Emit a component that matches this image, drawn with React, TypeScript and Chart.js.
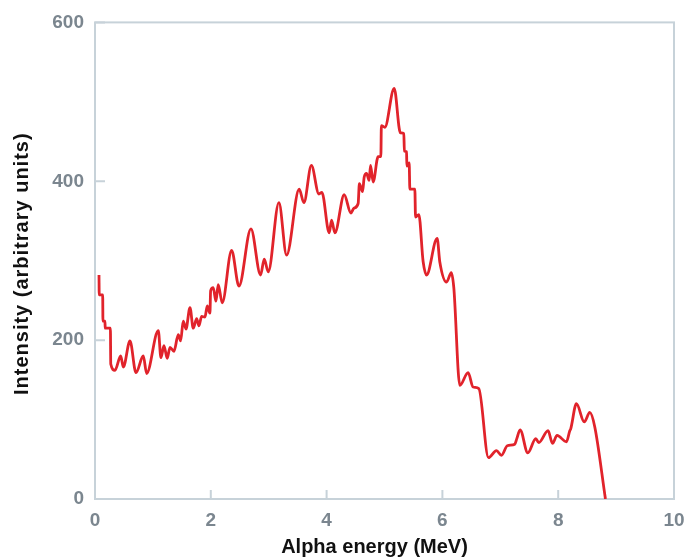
import { useEffect, useRef } from "react";
import { Chart, registerables } from "chart.js";

Chart.register(...registerables);

// Alpha spectrum: energy (MeV) and measured intensity (arbitrary units)
const energyMeV = [
  0.069, 0.073, 0.133, 0.137, 0.172, 0.176, 0.266, 0.272, 0.345, 0.444,
  0.489, 0.604, 0.708, 0.834, 0.892, 1.093, 1.139, 1.191, 1.248, 1.295,
  1.364, 1.438, 1.479, 1.524, 1.571, 1.64, 1.697, 1.756, 1.795, 1.842,
  1.899, 1.939, 1.985, 1.997, 2.042, 2.089, 2.128, 2.197, 2.36, 2.486,
  2.693, 2.86, 2.923, 2.992, 3.176, 3.309, 3.527, 3.608, 3.737, 3.867,
  3.919, 4.045, 4.086, 4.143, 4.304, 4.419, 4.471, 4.545, 4.566, 4.621,
  4.649, 4.69, 4.735, 4.759, 4.804, 4.89, 4.937, 4.946, 5.006, 5.167,
  5.274, 5.334, 5.343, 5.381, 5.386, 5.426, 5.438, 5.524, 5.536, 5.593,
  5.667, 5.726, 5.909, 5.956, 6.071, 6.154, 6.197, 6.301, 6.444, 6.53,
  6.629, 6.796, 6.934, 7.02, 7.121, 7.25, 7.285, 7.342, 7.475, 7.613,
  7.664, 7.825, 7.901, 7.98, 8.143, 8.2, 8.215, 8.315, 8.45, 8.545,
  8.631, 8.816,
];

const intensity = [
  282, 257, 257, 224, 224, 215, 215, 170, 162, 180,
  166, 199, 159, 180, 158, 212, 178, 193, 177, 191,
  186, 207, 199, 224, 214, 241, 215, 227, 218, 230,
  229, 243, 234, 262, 266, 249, 270, 247, 313, 268,
  340, 282, 302, 286, 373, 307, 390, 373, 420, 384,
  386, 335, 351, 335, 383, 360, 366, 372, 397, 387,
  405, 410, 401, 420, 399, 431, 431, 470, 468, 517,
  461, 460, 438, 437, 419, 423, 390, 390, 355, 358,
  299, 282, 328, 298, 273, 285, 266, 143, 159, 141,
  139, 52, 61, 55, 67, 69, 76, 87, 58, 76,
  71, 86, 70, 80, 72, 86, 88, 120, 97, 109,
  91, 0,
];

const xTickValues = [0, 2, 4, 6, 8, 10];
const yTickValues = [0, 200, 400, 600];
const xAxisTitle = "Alpha energy (MeV)";
const yAxisTitle = "Intensity (arbitrary units)";

const FRAME_COLOR = "#c7d2d9";
const TICK_TEXT = "#7b868f";
const TITLE_TEXT = "#111111";
const LINE_COLOR = "#e1232b";
const FONT = "'Liberation Sans', Arial, Helvetica, sans-serif";

// Box frame around the plot with short inward tick marks
const frameTicks = {
  id: "frameTicks",
  beforeDatasetsDraw(chart: any) {
    const { ctx, chartArea: a, scales } = chart;
    ctx.save();
    ctx.strokeStyle = FRAME_COLOR;
    ctx.lineWidth = 2;
    ctx.strokeRect(a.left, a.top, a.right - a.left, a.bottom - a.top);
    ctx.beginPath();
    for (const v of xTickValues) {
      const px = scales.x.getPixelForValue(v);
      ctx.moveTo(px, a.bottom);
      ctx.lineTo(px, a.bottom - 9);
    }
    for (const v of yTickValues) {
      const py = scales.y.getPixelForValue(v);
      ctx.moveTo(a.left, py);
      ctx.lineTo(a.left + 10, py);
    }
    ctx.stroke();
    ctx.restore();
  },
};

// Axis titles, placed relative to the plot area
const axisTitles = {
  id: "axisTitles",
  afterDraw(chart: any) {
    const { ctx, chartArea: a } = chart;
    ctx.save();
    ctx.fillStyle = TITLE_TEXT;
    ctx.textAlign = "center";
    ctx.textBaseline = "alphabetic";
    ctx.font = `bold 20px ${FONT}`;
    ctx.fillText(xAxisTitle, (a.left + a.right) / 2 - 10, a.bottom + 54);
    ctx.translate(28, (a.top + a.bottom) / 2 + 3);
    ctx.rotate(-Math.PI / 2);
    (ctx as any).letterSpacing = "1px";
    ctx.fillText(yAxisTitle, 0, 0);
    ctx.restore();
  },
};

export default function App() {
  const canvasRef = useRef<HTMLCanvasElement | null>(null);

  useEffect(() => {
    if (!canvasRef.current) return;
    const points = energyMeV.map((x, i) => ({ x, y: intensity[i] }));
    const tickFont = { family: FONT, size: 19, weight: "bold" as const };

    const chart = new Chart(canvasRef.current, {
      type: "line",
      data: {
        datasets: [
          {
            data: points,
            borderColor: LINE_COLOR,
            borderWidth: 2.8,
            pointRadius: 0,
            fill: false,
            cubicInterpolationMode: "monotone",
          },
        ],
      },
      plugins: [frameTicks, axisTitles],
      options: {
        animation: false,
        responsive: false,
        devicePixelRatio: 1,
        layout: { padding: { top: 20, right: 23, left: 0, bottom: 0 } },
        plugins: {
          legend: { display: false },
          tooltip: { enabled: false },
        },
        scales: {
          x: {
            type: "linear",
            min: 0,
            max: 10,
            afterFit(scale: any) {
              scale.height = 60;
            },
            afterBuildTicks(scale: any) {
              scale.ticks = xTickValues.map((v) => ({ value: v }));
            },
            grid: { display: false, drawTicks: false },
            border: { display: false },
            ticks: { color: TICK_TEXT, font: tickFont, padding: 10 },
            title: { display: false },
          },
          y: {
            type: "linear",
            min: 0,
            max: 600,
            afterFit(scale: any) {
              scale.width = 95;
            },
            afterBuildTicks(scale: any) {
              scale.ticks = yTickValues.map((v) => ({ value: v }));
            },
            grid: { display: false, drawTicks: false },
            border: { display: false },
            ticks: { color: TICK_TEXT, font: tickFont, padding: 11 },
            title: { display: false },
          },
        },
      },
    });
    return () => chart.destroy();
  }, []);

  return (
    <div style={{ position: "fixed", left: 0, top: 0, width: 697, height: 559, background: "#ffffff" }}>
      <canvas ref={canvasRef} width={697} height={559} />
    </div>
  );
}
